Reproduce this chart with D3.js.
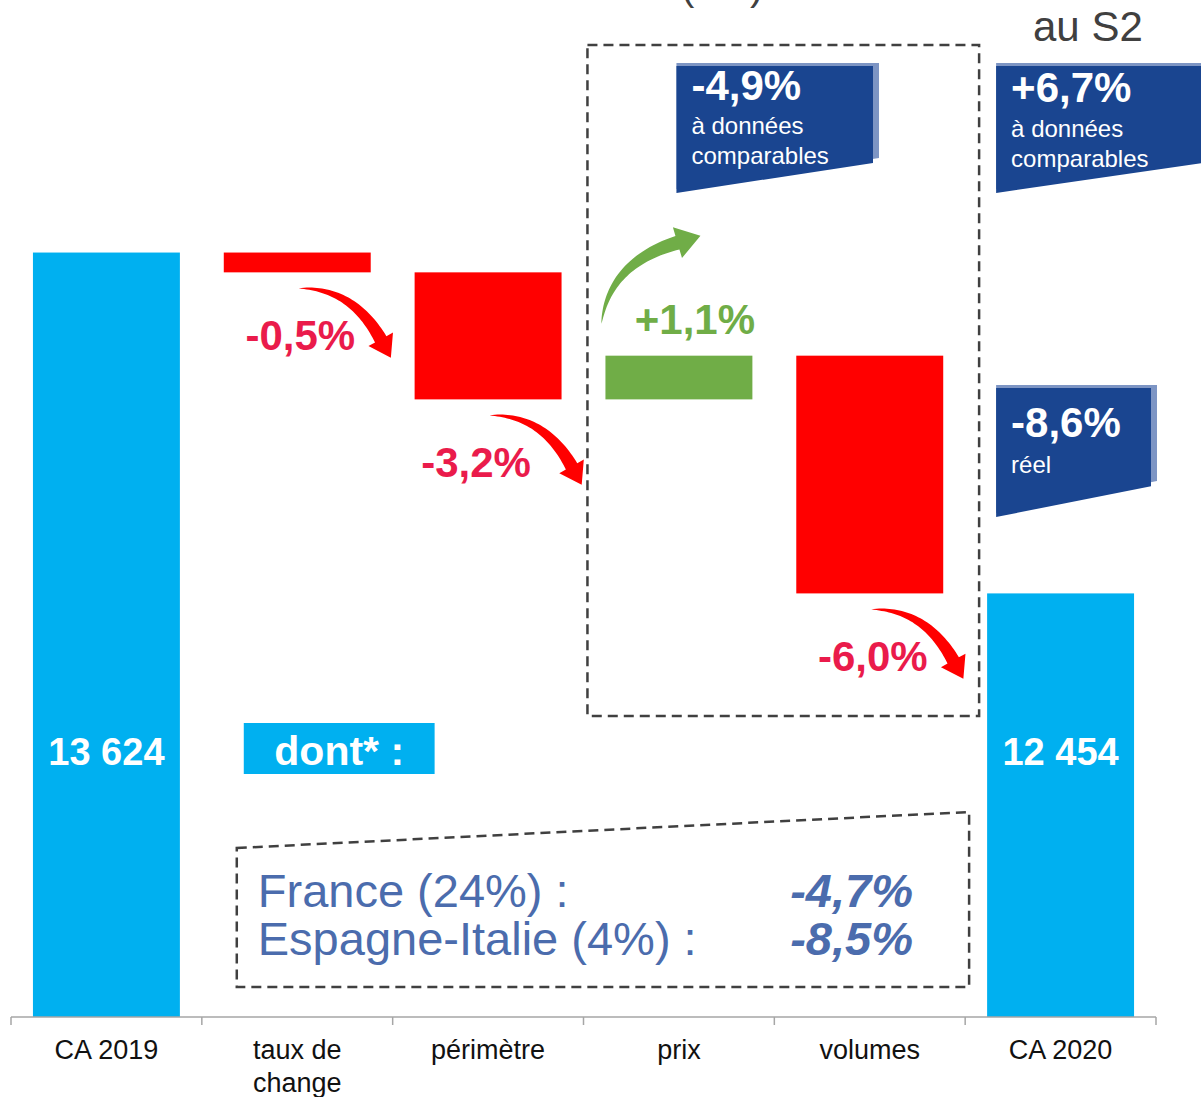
<!DOCTYPE html>
<html>
<head>
<meta charset="utf-8">
<script src="https://cdn.jsdelivr.net/npm/d3@7"></script>
<style>
  body { margin: 0; background: #fff; }
  text { font-family: "Liberation Sans", Arial, sans-serif; }
</style>
</head>
<body>
<script>
// data (M€)
var categories = ["CA 2019", "taux de change", "périmètre", "prix", "volumes", "CA 2020"];
var tickLabels = [["CA 2019"], ["taux de", "change"], ["périmètre"], ["prix"], ["volumes"], ["CA 2020"]];
var startValue = 13624;
var endValue = 12454;
var deltas = [-68, -436, 150, -816];
var deltaLabels = ["-0,5%", "-3,2%", "+1,1%", "-6,0%"];
var totalLabels = ["13 624", "12 454"];
var regionNames = ["France (24%) :", "Espagne-Italie (4%) :"];
var regionValues = ["-4,7%", "-8,5%"];
var calloutBig = ["-4,9%", "+6,7%", "-8,6%"];
var calloutSmall = [["à données", "comparables"], ["à données", "comparables"], ["réel"]];

var width = 1201, height = 1097;

var svg = d3.select("body").append("svg")
    .attr("width", width)
    .attr("height", height);

// scales
var x = d3.scaleBand()
    .domain(categories)
    .range([11, 1156])
    .paddingInner(0.23)
    .paddingOuter(0.115);

var y = d3.scaleLinear()
    .domain([11000, 14000])
    .range([1017, 143]);

// build waterfall rows
var rows = [];
rows.push({cat: categories[0], lo: y.domain()[0], hi: startValue, type: "total"});
var run = startValue;
deltas.forEach(function(d, i) {
  var next = run + d;
  rows.push({cat: categories[i + 1], lo: Math.min(run, next), hi: Math.max(run, next),
             type: d < 0 ? "neg" : "pos", from: run, to: next, label: deltaLabels[i]});
  run = next;
});
rows.push({cat: categories[5], lo: y.domain()[0], hi: endValue, type: "total"});

var colors = {total: "#00b0f0", neg: "#ff0000", pos: "#70ad47"};

svg.append("g").selectAll("rect")
    .data(rows)
  .enter().append("rect")
    .attr("x", function(d) { return x(d.cat); })
    .attr("y", function(d) { return y(d.hi); })
    .attr("width", x.bandwidth())
    .attr("height", function(d) { return y(d.lo) - y(d.hi); })
    .attr("fill", function(d) { return colors[d.type]; });

// totals inside bars
var totals = rows.filter(function(d) { return d.type == "total"; });
svg.append("g").selectAll("text")
    .data(totals)
  .enter().append("text")
    .attr("x", function(d) { return x(d.cat) + x.bandwidth() / 2; })
    .attr("y", 765)
    .attr("text-anchor", "middle")
    .attr("fill", "#fff")
    .attr("font-weight", "bold")
    .attr("font-size", 38)
    .text(function(d, i) { return totalLabels[i]; });

// axis
var axisY = y.range()[0];
var axis = svg.append("g")
    .attr("transform", "translate(0," + axisY + ")");
axis.append("line")
    .attr("x1", x.range()[0]).attr("x2", x.range()[1])
    .attr("stroke", "#a6a6a6").attr("stroke-width", 1.5);
d3.range(categories.length + 1).forEach(function(i) {
  var tx = x.range()[0] + i * x.step();
  axis.append("line")
      .attr("x1", tx).attr("x2", tx)
      .attr("y1", 0).attr("y2", 8)
      .attr("stroke", "#a6a6a6").attr("stroke-width", 1.5);
});
categories.forEach(function(c, i) {
  var t = axis.append("text")
      .attr("x", x(c) + x.bandwidth() / 2)
      .attr("y", 42)
      .attr("text-anchor", "middle")
      .attr("font-size", 27)
      .attr("fill", "#111");
  tickLabels[i].forEach(function(line, j) {
    t.append("tspan")
        .attr("x", x(c) + x.bandwidth() / 2)
        .attr("dy", j == 0 ? 0 : 33)
        .text(line);
  });
});

// curved block arrows
function curvedArrow(tail, base, ctrl, bodyW, headHalf, headLen, color) {
  var left = [], right = [];
  var n = 40;
  for (var k = 0; k <= n; k++) {
    var t = k / n;
    var px = (1 - t) * (1 - t) * tail[0] + 2 * (1 - t) * t * ctrl[0] + t * t * base[0];
    var py = (1 - t) * (1 - t) * tail[1] + 2 * (1 - t) * t * ctrl[1] + t * t * base[1];
    var dx = 2 * (1 - t) * (ctrl[0] - tail[0]) + 2 * t * (base[0] - ctrl[0]);
    var dy = 2 * (1 - t) * (ctrl[1] - tail[1]) + 2 * t * (base[1] - ctrl[1]);
    var len = Math.sqrt(dx * dx + dy * dy);
    var nx = -dy / len, ny = dx / len;
    var w = bodyW * Math.pow(t, 0.75) / 2;
    left.push([px + nx * w, py + ny * w]);
    right.push([px - nx * w, py - ny * w]);
  }
  var ex = base[0] - ctrl[0], ey = base[1] - ctrl[1];
  var el = Math.sqrt(ex * ex + ey * ey);
  ex /= el; ey /= el;
  var hx = -ey, hy = ex;
  var pts = left.concat([
    [base[0] + hx * headHalf, base[1] + hy * headHalf],
    [base[0] + ex * headLen, base[1] + ey * headLen],
    [base[0] - hx * headHalf, base[1] - hy * headHalf]
  ]).concat(right.reverse());
  svg.append("path")
      .attr("d", d3.line()(pts) + "Z")
      .attr("fill", color);
}

var bw = x.bandwidth();
var labelShift = [3, -12, 16, 3];
rows.forEach(function(d, i) {
  if (d.type == "neg") {
    var bottom = y(d.lo);
    var start = x(d.cat);
    var tail = [start + 75, bottom + 16];
    var base = [start + bw + 10, bottom + 67];
    var ctrl = [tail[0] + 0.65 * (base[0] - tail[0]), tail[1] - 1];
    curvedArrow(tail, base, ctrl, 13, 14, 21, "#ff0000");
    svg.append("text")
        .attr("x", start + bw / 2 + labelShift[i - 1])
        .attr("y", bottom + 78)
        .attr("text-anchor", "middle")
        .attr("font-weight", "bold")
        .attr("font-size", 42)
        .attr("fill", "#ea1b4b")
        .text(d.label);
  } else if (d.type == "pos") {
    var top = y(d.hi);
    var s = x(d.cat);
    var tailG = [s - 4, top - 32];
    var baseG = [s + 72, top - 113];
    var ctrlG = [tailG[0] + 0.1 * (baseG[0] - tailG[0]), tailG[1] + 0.75 * (baseG[1] - tailG[1])];
    curvedArrow(tailG, baseG, ctrlG, 14, 16, 24, "#70ad47");
    svg.append("text")
        .attr("x", s + bw / 2 + labelShift[i - 1])
        .attr("y", top - 22)
        .attr("text-anchor", "middle")
        .attr("font-weight", "bold")
        .attr("font-size", 42)
        .attr("fill", "#70ad47")
        .text(d.label);
  }
});

// dashed frame around prix + volumes
var dash = "10,6";
svg.append("rect")
    .attr("x", x("prix") - 18)
    .attr("y", 45)
    .attr("width", (x("CA 2020") - 8) - (x("prix") - 18))
    .attr("height", 671)
    .attr("fill", "none")
    .attr("stroke", "#404040")
    .attr("stroke-width", 2.5)
    .attr("stroke-dasharray", dash);

// "dont*" tag
var tagX = x("taux de change") + 20;
svg.append("rect")
    .attr("x", tagX).attr("y", 723)
    .attr("width", x.step()).attr("height", 51)
    .attr("fill", "#00b0f0");
svg.append("text")
    .attr("x", tagX + x.step() / 2)
    .attr("y", 765)
    .attr("text-anchor", "middle")
    .attr("font-weight", "bold")
    .attr("font-size", 41)
    .attr("fill", "#fff")
    .text("dont* :");

// slanted dashed box with regions
var qL = x("taux de change") + 13, qR = x("CA 2020") - 18;
svg.append("path")
    .attr("d", d3.line()([[qL, 848], [qR, 812], [qR, 987], [qL, 987]]) + "Z")
    .attr("fill", "none")
    .attr("stroke", "#404040")
    .attr("stroke-width", 2.5)
    .attr("stroke-dasharray", dash);
regionNames.forEach(function(r, i) {
  svg.append("text")
      .attr("x", qL + 21)
      .attr("y", 907 + i * 48)
      .attr("font-size", 47)
      .attr("fill", "#4b6cad")
      .text(r);
  svg.append("text")
      .attr("x", 913)
      .attr("y", 907 + i * 48)
      .attr("text-anchor", "end")
      .attr("font-size", 47)
      .attr("font-weight", "bold")
      .attr("font-style", "italic")
      .attr("fill", "#4b6cad")
      .text(regionValues[i]);
});

// dark blue callouts
var callouts = [
  {L: x("prix") + 71, R: 879, T: 63, BL: 193, BR: 162, edge: true, big: 37, small: 71},
  {L: x("CA 2020") + 9, R: 1210, T: 63, BL: 193, BR: 162, edge: false, big: 39, small: 74},
  {L: x("CA 2020") + 9, R: 1157, T: 385, BL: 517, BR: 485, edge: true, big: 52, small: 88}
];
callouts.forEach(function(c, i) {
  svg.append("path")
      .attr("d", d3.line()([[c.L, c.T], [c.R, c.T], [c.R, c.BR - 4], [c.L, c.BL - 4]]) + "Z")
      .attr("fill", "#7d95c4");
  var r2 = c.edge ? c.R - 6 : c.R;
  var slope = (c.BR - c.BL) / (c.R - c.L);
  svg.append("path")
      .attr("d", d3.line()([[c.L, c.T + 3], [r2, c.T + 3], [r2, c.BL + slope * (r2 - c.L)], [c.L, c.BL]]) + "Z")
      .attr("fill", "#1a4590");
  var tx = c.L + 15;
  svg.append("text")
      .attr("x", tx).attr("y", c.T + c.big)
      .attr("font-weight", "bold")
      .attr("font-size", 42)
      .attr("fill", "#fff")
      .text(calloutBig[i]);
  calloutSmall[i].forEach(function(s, j) {
    svg.append("text")
        .attr("x", tx).attr("y", c.T + c.small + j * 30)
        .attr("font-size", 24)
        .attr("fill", "#fff")
        .text(s);
  });
});

// clipped title remnants
svg.append("text")
    .attr("x", 681).attr("y", 0)
    .attr("font-size", 40)
    .attr("fill", "#404040")
    .text("(M€)");
svg.append("text")
    .attr("x", 1033).attr("y", 41)
    .attr("font-size", 42)
    .attr("fill", "#404040")
    .text("au S2");
</script>
</body>
</html>
